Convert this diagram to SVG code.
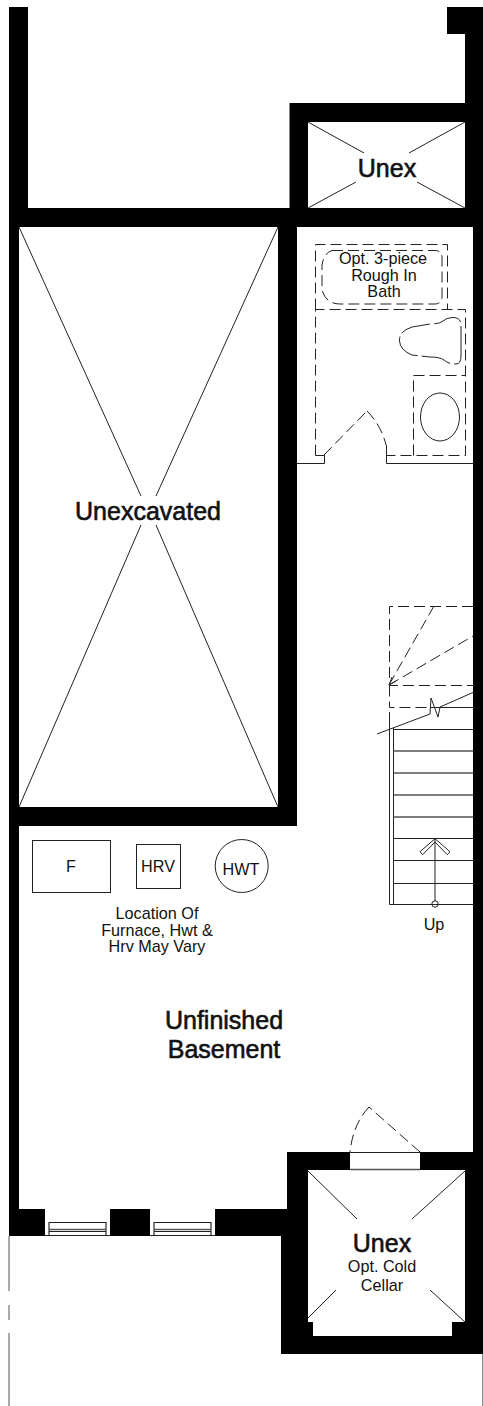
<svg xmlns="http://www.w3.org/2000/svg" width="483" height="1406" viewBox="0 0 483 1406">
<style>
.wall{fill:#000}
.open{fill:#fff}
.thin{fill:none;stroke:#222;stroke-width:1}
.soft{fill:none;stroke:#555;stroke-width:1.500}
.dash{fill:none;stroke:#222;stroke-width:1;stroke-dasharray:11 5}
.long{fill:none;stroke:#222;stroke-width:1;stroke-dasharray:30 4}
text{font-family:"Liberation Sans",Arial,sans-serif;fill:#111;text-anchor:middle}
.big{font-size:25px;stroke:#111;stroke-width:0.6}
.small{font-size:16.200px}
</style>
<rect width="483" height="1406" fill="#fff"/>
<g id="walls">
<path class="wall" d="M9 7H28V208H289.500V103H465V34H447V7H483V1354H281V1236H9ZM19 227V1209H45V1209H287V1152H473V227H297V826H19V807H278V227ZM308 122V208H465V122ZM308 1170V1322H313V1336H452V1322H465V1170Z" fill-rule="evenodd"/>
<rect class="open" x="350" y="1152" width="70" height="18"/>
<rect class="open" x="45" y="1209" width="65" height="27"/>
<rect class="open" x="150" y="1209" width="65" height="27"/>
</g>
<g id="site-line">
<path d="M9 1236V1291M9 1305V1320M9 1333V1406" fill="none" stroke="#555" stroke-width="1"/>
<path d="M482.500 1354V1406" fill="none" stroke="#888" stroke-width="1"/>
</g>
<g id="unexcavated">
<path class="thin" d="M19 227L141 496M278 227L156 496M141 525L19 807M156 525L278 807"/>
<text class="big" x="148" y="520">Unexcavated</text>
</g>
<g id="unex-top">
<path class="thin" d="M308 122L364 153M465 122L409 153M356 182L308 208M417 182L465 208"/>
<text class="big" x="387" y="176.500">Unex</text>
</g>
<g id="bath">
<path class="dash" d="M315.500 309.500V244.500H447.500V309.500"/>
<path class="dash" d="M332 250.500H435Q442 250.500 442 258V296Q442 304 435 304H340Q326 304 322 290V265Q324 253 332 250.500Z"/>
<path class="dash" d="M315.500 455.500V309.500H465.500V455.500H386"/>
<path class="dash" d="M324 455.500H315.500"/>
<path class="dash" d="M413.500 455.500V375.500H465.500"/>
<ellipse class="thin" cx="440" cy="417" rx="19.500" ry="24"/>
<path class="long" d="M461 356V325Q461 317 452 317.500Q446 318 443 321Q440 324 430 324L412 327Q399 331 399.500 341Q400 350 412 355L430 357Q440 357 444 360Q448 364 456 364Q461 364 461 356Z"/>
<path class="thin" d="M297 463.500H324.500V455M386.500 445V463.500H473"/>
<path class="dash" d="M324 455L367 411"/>
<path class="dash" d="M367 411Q381 425 386 445"/>
<text class="small" x="383" y="264">Opt. 3-piece</text>
<text class="small" x="384" y="281">Rough In</text>
<text class="small" x="384" y="297">Bath</text>
</g>
<g id="stairs">
<path class="dash" d="M473 606.500H389.500V685.500H473M389.500 685.500V707.500H430"/>
<path class="dash" d="M389 685L434 606M389 685L473 636"/>
<path class="thin" d="M389 685L392 677M389 685L396 681"/>
<path class="thin" d="M430 707.500H473M377 734L430 714L431 698L438 717L440 707L474 692"/>
<path class="thin" d="M389.500 712V904.500H473M393.500 728V904M393.500 729.500H473M393.500 838.500H473M393.500 860.500H473M393.500 883.500H473"/>
<path class="soft" d="M393.500 751H473M393.500 773H473M393.500 795H473M393.500 817H473"/>
<path class="thin" d="M435 838.700V901"/>
<path class="thin" d="M435 838.700L420 851.700L422.700 854.700L435 842L447.300 854.700L450 851.700Z"/>
<circle class="thin" cx="435" cy="904" r="3.200"/>
<text class="small" x="434" y="929.500">Up</text>
</g>
<g id="furnace">
<rect class="thin" x="32.500" y="840.500" width="78" height="52"/>
<text class="small" x="71" y="872">F</text>
</g>
<g id="hrv">
<rect class="thin" x="136.500" y="844.500" width="44" height="44"/>
<text class="small" x="158" y="872">HRV</text>
</g>
<g id="hwt">
<circle class="thin" cx="241.700" cy="866" r="26.500"/>
<text class="small" x="241" y="875">HWT</text>
</g>
<g id="labels">
<text class="small" x="157" y="919">Location Of</text>
<text class="small" x="157" y="936">Furnace, Hwt &amp;</text>
<text class="small" x="157" y="952">Hrv May Vary</text>
<text class="big" x="224" y="1029">Unfinished</text>
<text class="big" x="224" y="1058">Basement</text>
</g>
<g id="cellar">
<path class="thin" d="M350 1152.500H420"/>
<path class="soft" d="M350 1169.500H420"/>
<path class="dash" d="M420 1152L369 1107"/>
<path class="dash" d="M369 1107Q353 1124 350 1152"/>
<path class="thin" d="M308 1171L357 1219M465 1171L412 1219M336 1290L308 1318M430 1290L465 1322"/>
<text class="big" x="382" y="1252">Unex</text>
<text class="small" x="382" y="1272">Opt. Cold</text>
<text class="small" x="382" y="1291">Cellar</text>
</g>
<g id="windows">
<path class="soft" d="M49 1222V1236M106 1222V1236M154 1222V1236M211 1222V1236"/>
<path class="soft" d="M49 1229.500H106M154 1229.500H211"/>
<path class="thin" d="M49 1222.500H106M49 1231.500H106M45 1235.500H110M154 1222.500H211M154 1231.500H211M150 1235.500H215"/>
</g>
</svg>
